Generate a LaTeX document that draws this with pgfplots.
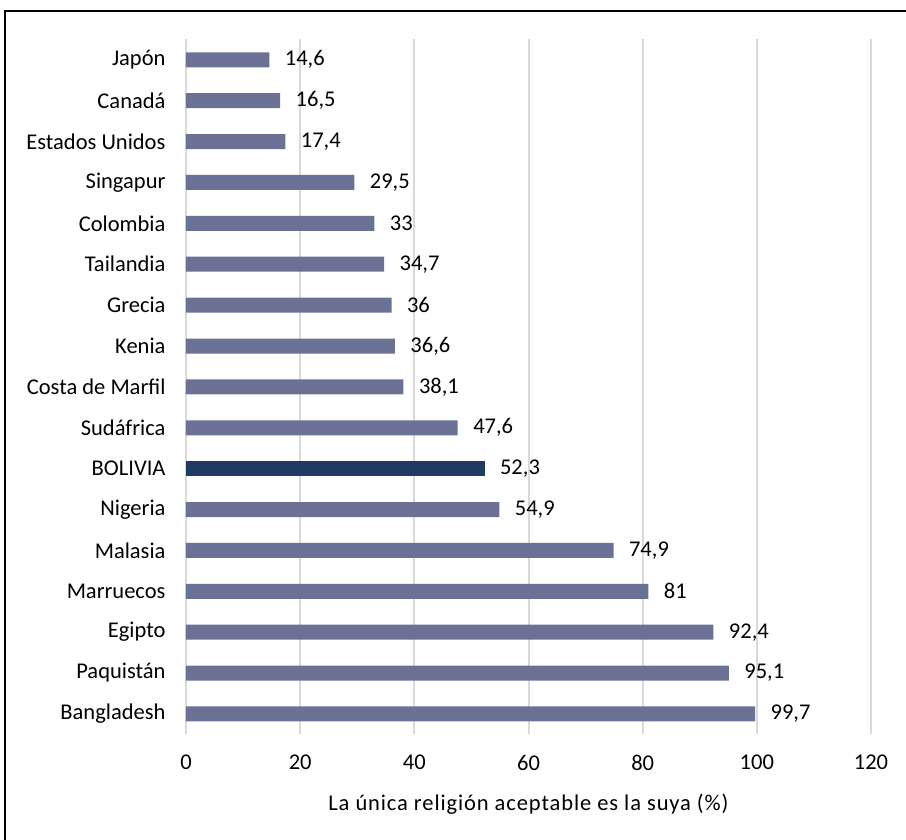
\documentclass[border=0pt]{standalone}
\usepackage{pgfplots}
\pgfplotsset{compat=1.18}
\usepackage{fontspec}
\setmainfont{Carlito}
\definecolor{barc}{HTML}{6B7194}
\definecolor{bolc}{HTML}{213A63}
\definecolor{gridc}{HTML}{D9D9D9}
\begin{document}
\begin{tikzpicture}[x=1pt,y=1pt]
\path[use as bounding box] (0,0) rectangle (906,840);
\draw[line width=2pt] (5,-2) -- (5,829) -- (908,829);
\begin{axis}[
  at={(186pt,105.6pt)}, anchor=south west,
  scale only axis, width=685pt, height=695pt,
  xbar, bar width=15pt, bar shift=0pt,
  xmin=0, xmax=120, ymin=-0.5, ymax=16.5,
  xtick={0,20,...,120},
  ytick={0,...,16},
  yticklabels={Bangladesh,Paquistán,Egipto,Marruecos,Malasia,Nigeria,BOLIVIA,Sudáfrica,Costa de Marfil,Kenia,Grecia,Tailandia,Colombia,Singapur,Estados Unidos,Canadá,Japón},
  axis line style={draw=none},
  xmajorgrids, grid style={gridc, line width=2pt},
  major tick length=0pt,
  tick label style={font=\fontsize{22.5}{25}\selectfont, text=black},
  /pgf/number format/assume math mode=true,
  /pgf/number format/use comma,
  /pgf/number format/fixed,
  /pgf/number format/precision=1,
  yticklabel style={xshift=-17pt},
  xticklabel style={yshift=-17pt},
  xlabel={\addfontfeature{LetterSpace=4}La única religión aceptable es la suya (\%)},
  xlabel style={font=\fontsize{22.5}{25}\selectfont, yshift=-17pt},
  nodes near coords,
  nodes near coords style={font=\fontsize{22.5}{25}\selectfont, text=black, anchor=west, xshift=12pt},
  clip=false,
]
\addplot[fill=barc, draw=none] coordinates {
(99.7,0) (95.1,1) (92.4,2) (81,3) (74.9,4) (54.9,5) (47.6,7) (38.1,8) (36.6,9) (36,10) (34.7,11) (33,12) (29.5,13) (17.4,14) (16.5,15) (14.6,16)};
\addplot[fill=bolc, draw=none] coordinates {(52.3,6)};
\end{axis}
\end{tikzpicture}
\end{document}
